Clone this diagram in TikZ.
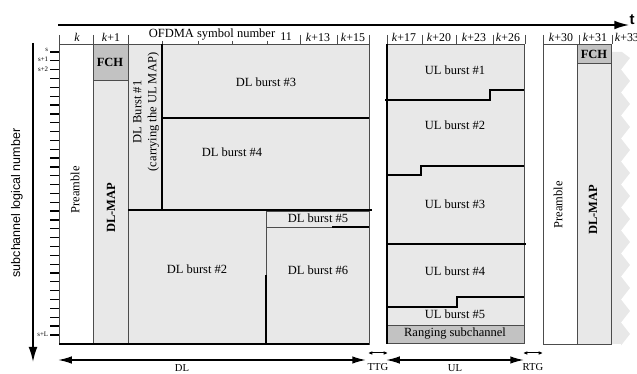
\documentclass[tikz,border=0pt]{standalone}
\usepackage{fontspec}
\setmainfont{Liberation Serif}
\setsansfont{Liberation Sans}
\usetikzlibrary{arrows.meta}

\newcommand{\symb}[1]{\textit{k}+#1}

\begin{document}
\begin{tikzpicture}[x=0.8pt, y=-0.8pt,
        thinline/.style = {draw=black!70, line width=0.6pt},
        thickline/.style = {draw=black, line width=1.3pt},
        burst/.style = {fill=black!9, draw=black!70, line width=0.6pt},
        darkbox/.style = {fill=black!24, draw=black!70, line width=0.6pt},
        txt/.style = {font=\fontsize{10}{12}\selectfont, inner sep=1pt},
        vtxt/.style = {txt, rotate=90, align=center},
        hdr/.style = {font=\fontsize{9.5}{10}\selectfont, inner sep=0.5pt},
        tick/.style = {font=\fontsize{5.5}{5.5}\selectfont, inner sep=0.5pt, anchor=east},
        dur/.style = {font=\fontsize{8.5}{9}\selectfont, inner sep=0.5pt},
        span/.style = {{Latex[length=11pt,width=6pt]}-{Latex[length=11pt,width=6pt]}, line width=1.3pt},
        gap/.style = {{Latex[length=3.5pt,width=3pt]}-{Latex[length=3.5pt,width=3pt]}, line width=0.8pt}
        ]
        \useasboundingbox (0,0) rectangle (637,374);

        % time axis and header row
        \coordinate (tstart) at (58,25);
        \node[font=\sffamily\bfseries\fontsize{12}{12}\selectfont, inner sep=0pt] (tlab) at (632,20) {t};
        \draw[line width=1.5pt, -{Latex[length=12pt,width=7pt]}] (tstart) -- (tlab.west |- tstart);
        \foreach \x in {59,93,128,300,337,369,387,422,456,493,525,543,579,612}
                \draw[thinline] (\x,35) -- (\x,44);
        \foreach \x in {162,198,232,267}
                \draw[thinline] (\x,41) -- (\x,44);
        \node[hdr] (h0) at (77,37) {\textit{k}};
        \node[hdr] (h1) at (111,37) {\symb{1}};
        \node[hdr, font=\fontsize{10}{11}\selectfont] (hsym) at (212,35) {OFDMA symbol number};
        \node[hdr] (h11) at (286,37) {11};
        \node[hdr] (h13) at (318,37) {\symb{13}};
        \node[hdr] (h15) at (353,37) {\symb{15}};
        \node[hdr] (h17) at (404,37) {\symb{17}};
        \node[hdr] (h20) at (439,37) {\symb{20}};
        \node[hdr] (h23) at (474,37) {\symb{23}};
        \node[hdr] (h26) at (508,37) {\symb{26}};
        \node[hdr] (h30) at (561,37) {\symb{30}};
        \node[hdr] (h31) at (595,37) {\symb{31}};
        \node[hdr, anchor=west] (h33) at (614,37) {\symb{33}};

        % subchannel axis
        \coordinate (ytop) at (33,43);
        \coordinate (ybot) at (33,362);
        \draw[line width=1.3pt, -{Latex[length=12pt,width=7pt]}] (ytop) -- (ybot);
        \foreach \i in {0,...,32}
                \draw[line width=1pt] (50,{52+\i*8.84}) -- (59,{52+\i*8.84});
        \node[tick] (s0) at (49,49.5) {s};
        \node[tick] (s1) at (49,59.5) {s+1};
        \node[tick] (s2) at (49,69) {s+2};
        \node[tick] (sL) at (49,334) {s+L};
        \node[font=\sffamily\fontsize{10}{12}\selectfont, rotate=90] (yname) at (17,203) {subchannel logical number};

        % downlink subframe
        \draw[thinline, fill=white] (59,44) rectangle (93,344);
        \draw[darkbox] (93,44) rectangle (128,80);
        \draw[burst] (93,80) rectangle (128,344);
        \draw[burst] (128,44) rectangle (162,210);
        \draw[burst] (162,44) rectangle (369,118);
        \draw[burst] (162,118) rectangle (369,211);
        \draw[burst] (128,210) rectangle (266,344);
        \draw[burst] (266,211) rectangle (369,227);
        \draw[burst] (266,227) rectangle (369,344);
        \draw[thickline] (162,44) -- (162,211);
        \draw[thickline] (162,118) -- (369,118);
        \draw[thickline] (128,210) -- (372,210);
        \draw[thickline] (332,227) -- (369,227);
        \draw[thickline] (266,275) -- (266,344);
        \draw[line width=1pt] (59,344) -- (369,344);

        \node[txt] (fch1) at (110,62) {\textbf{FCH}};
        \node[vtxt] (pre1) at (75,190) {Preamble};
        \node[vtxt] (map1) at (111,208) {\textbf{DL-MAP}};
        \node[vtxt] (dl1) at (146,112) {DL Burst \#1\\(carrying the UL MAP)};
        \node[txt] (dl3) at (266,82) {DL burst \#3};
        \node[txt] (dl4) at (232,152) {DL burst \#4};
        \node[txt] (dl2) at (197,269) {DL burst \#2};
        \node[txt] (dl5) at (318,218) {DL burst \#5};
        \node[txt] (dl6) at (318,270) {DL burst \#6};

        % uplink subframe
        \draw[burst] (387,44) rectangle (524,325);
        \draw[darkbox] (387,325) rectangle (524,343);
        \draw[thickline] (387,44) -- (387,344);
        \draw[thickline] (385,100) -- (490,100) -- (490,90) -- (524,90);
        \draw[thickline] (387,175) -- (421,175) -- (421,166) -- (524,166);
        \draw[line width=1pt] (387,244) -- (526,244);
        \draw[thickline] (387,307) -- (457,307) -- (457,297) -- (524,297);

        \node[txt] (ul1) at (455,70) {UL burst \#1};
        \node[txt] (ul2) at (455,125) {UL burst \#2};
        \node[txt] (ul3) at (455,204) {UL burst \#3};
        \node[txt] (ul4) at (455,271) {UL burst \#4};
        \node[txt] (ul5) at (455,314) {UL burst \#5};
        \node[txt] (rng) at (455,334) {Ranging subchannel};

        % next frame
        \draw[thinline, fill=white] (543,44) rectangle (577,344);
        \draw[darkbox] (577,44) rectangle (611,63);
        \draw[burst] (577,63) rectangle (611,344);
        \fill[black!9] (612,52) -- (622,52)
                \foreach \i in {0,...,12} { -- (630,{58+\i*23}) -- (621,{69.5+\i*23}) }
                -- (621,344) -- (612,344) -- cycle;
        \draw[thinline] (611,44) -- (611,344);

        \node[txt] (fch2) at (594,54) {\textbf{FCH}};
        \node[vtxt] (pre2) at (558,205) {Preamble};
        \node[vtxt] (map2) at (593,210) {\textbf{DL-MAP}};

        % durations
        \coordinate (dlA) at (58,360);
        \coordinate (dlB) at (366,360);
        \coordinate (ttgA) at (368,353);
        \coordinate (ttgB) at (388,353);
        \coordinate (ulA) at (386,360);
        \coordinate (ulB) at (524,360);
        \coordinate (rtgA) at (523,353);
        \coordinate (rtgB) at (543,353);
        \draw[span] (dlA) -- (dlB);
        \draw[gap] (ttgA) -- (ttgB);
        \draw[span] (ulA) -- (ulB);
        \draw[gap] (rtgA) -- (rtgB);
        \node[dur] (dlname) at (182,368) {DL};
        \node[dur] (ttgname) at (378,367) {TTG};
        \node[dur] (ulname) at (455,368) {UL};
        \node[dur] (rtgname) at (533,367) {RTG};
\end{tikzpicture}
\end{document}
